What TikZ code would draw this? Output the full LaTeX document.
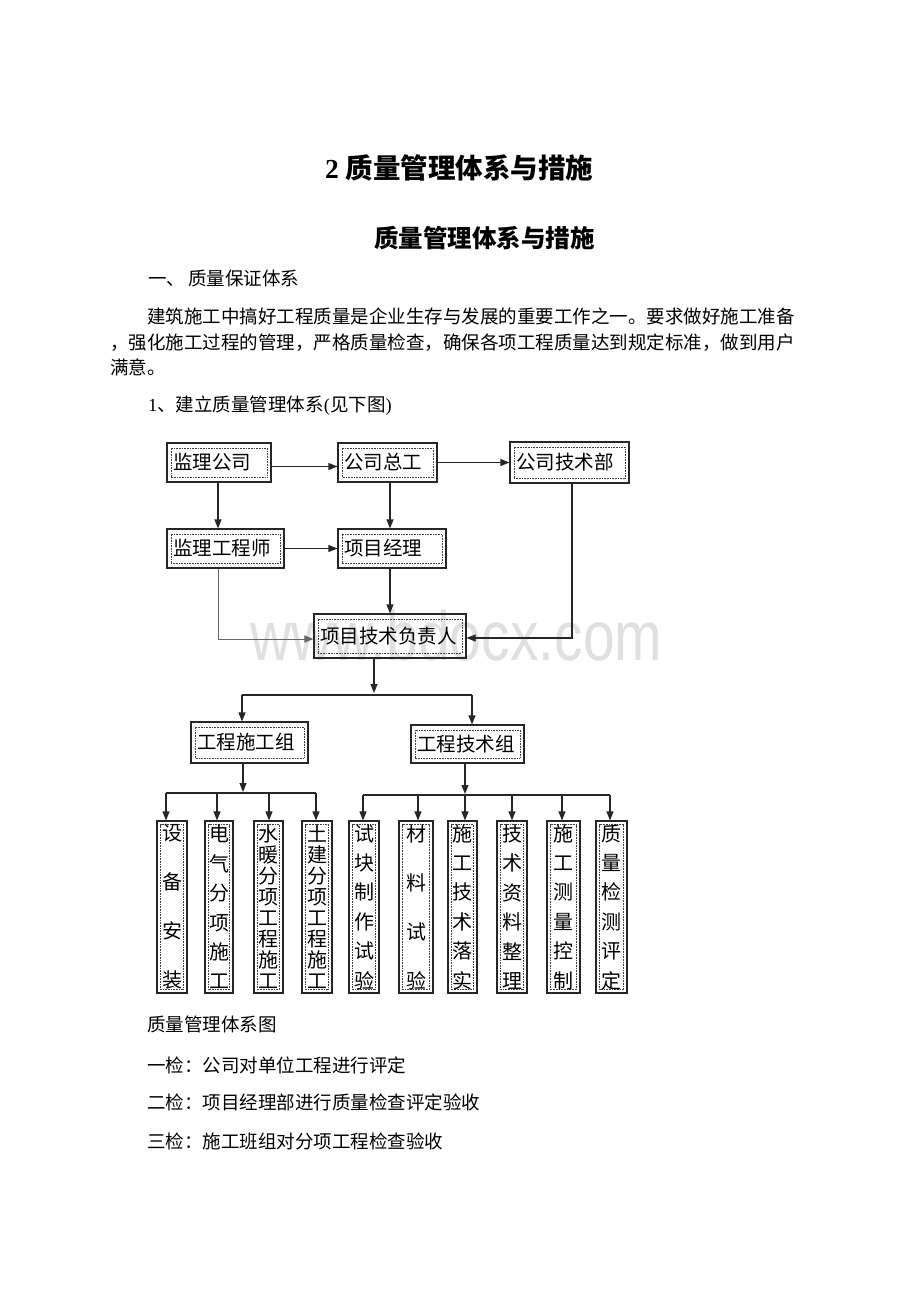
\documentclass[tikz,border=0pt]{standalone}
\usepackage{fontspec}
\usepackage{graphicx}
\setmainfont{Liberation Serif}
\newfontfamily\cjk{Noto Sans CJK SC}
\newfontfamily\wmfont{Liberation Sans}
\usetikzlibrary{arrows.meta,calc}
\tikzset{
  ln/.style={draw=black!85, line width=1.1pt},
  lnlight/.style={draw=black!60, line width=0.9pt},
  tip/.style={-{Triangle[length=9pt,width=7pt]}},
  arr/.style={ln, tip},
  dotin/.style={path picture={\draw[black!75, line width=0.6pt, dash pattern=on 0.8pt off 0.8pt]
      ($(path picture bounding box.south west)+(#1)$) rectangle ($(path picture bounding box.north east)-(#1)$);}},
  hbox/.style n args={3}{draw=black!85, line width=1.1pt, minimum width=#1, text width=#2,
      minimum height=#3, inner xsep=6pt, inner ysep=0pt, align=left,
      font=\cjk\fontsize{19.5}{22}\selectfont, dotin={4pt,5pt}},
  tall/.style 2 args={draw=black!85, line width=1.1pt, minimum width=#1, minimum height=172pt,
      inner sep=0pt, align=center, font=\cjk\fontsize{20}{#2}\selectfont, dotin={3.5pt,3.5pt}},
  txt/.style={anchor=base west, inner sep=0pt, font=\cjk\fontsize{18.5}{20}\selectfont},
}
\begin{document}
\begin{tikzpicture}[x=1pt, y=-1pt]
\useasboundingbox (0,0) rectangle (920,1302);
\fill[white] (0,0) rectangle (920,1302);

% watermark
\node[anchor=base west, inner sep=0pt, text=black!12] (wm) at (250,660)
  {\scalebox{0.815}[1]{\wmfont\fontsize{70}{70}\selectfont www.bdocx.com}};

% headings and text
\node[anchor=base west, inner sep=0pt, font=\bfseries\fontsize{27.5}{30}\selectfont] (t1) at (325,178.5)
  {2 {\cjk 质量管理体系与措施}};
\node[anchor=base west, inner sep=0pt, font=\cjk\bfseries\fontsize{24.5}{27}\selectfont] (t2) at (374,247.3)
  {质量管理体系与措施};
\node[txt] (s1) at (148,285) {一、\hspace{3pt}质量保证体系};
\node[txt] (p1) at (147,323) {建筑施工中搞好工程质量是企业生存与发展的重要工作之一。要求做好施工准备};
\node[txt] (p2) at (110,349) {，强化施工过程的管理，严格质量检查，确保各项工程质量达到规定标准，做到用户};
\node[txt] (p3) at (110,374) {满意。};
\node[txt] (s2) at (148,411) {{\rmfamily 1}、建立质量管理体系{\rmfamily (}见下图{\rmfamily )}};
\node[txt] (c0) at (147,1031) {质量管理体系图};
\node[txt] (c1) at (147,1072) {一检：公司对单位工程进行评定};
\node[txt] (c2) at (147,1109) {二检：项目经理部进行质量检查评定验收};
\node[txt] (c3) at (147,1148) {三检：施工班组对分项工程检查验收};

% upper boxes
\node[hbox={104pt}{92pt}{39pt}] (jlgs) at (219,462.5) {监理公司};
\node[hbox={99pt}{87pt}{39pt}] (gszg) at (387.5,462.5) {公司总工};
\node[hbox={119pt}{107pt}{41pt}] (gsjsb) at (569.5,462.5) {公司技术部};
\node[hbox={117pt}{105pt}{39pt}] (jlgcs) at (225.5,548.5) {监理工程师};
\node[hbox={108pt}{96pt}{39pt}] (xmjl) at (392,548.5) {项目经理};
\node[hbox={152pt}{140pt}{44pt}] (ptr) at (390,636) {项目技术负责人};
\node[hbox={117pt}{105pt}{41pt}] (gsz) at (249.5,742.5) {工程施工组};
\node[hbox={113pt}{101pt}{38pt}] (gjs) at (467.5,744) {工程技术组};

% bottom boxes
\node[tall={30pt}{49}] (b1) at (172,907) {设\\备\\安\\装};
\node[tall={28pt}{29.4}] (b2) at (219,907) {电\\气\\分\\项\\施\\工};
\node[tall={29pt}{21}] (b3) at (268.5,907) {水\\暖\\分\\项\\工\\程\\施\\工};
\node[tall={30pt}{21}] (b4) at (317,907) {土\\建\\分\\项\\工\\程\\施\\工};
\node[tall={30pt}{29.4}] (b5) at (364,907) {试\\块\\制\\作\\试\\验};
\node[tall={34pt}{49}] (b6) at (416,907) {材\\料\\试\\验};
\node[tall={29pt}{29.4}] (b7) at (462.5,907) {施\\工\\技\\术\\落\\实};
\node[tall={30pt}{29.4}] (b8) at (512,907) {技\\术\\资\\料\\整\\理};
\node[tall={33pt}{29.4}] (b9) at (563.5,907) {施\\工\\测\\量\\控\\制};
\node[tall={31pt}{29.4}] (b10) at (611.5,907) {质\\量\\检\\测\\评\\定};

% junction coordinates
\coordinate (j1) at (374,693);
\coordinate (j1l) at (242,695);
\coordinate (j1r) at (472,695);
\coordinate (j2) at (243,792);
\coordinate (j2l) at (166,793);
\coordinate (j2r) at (316,793);
\coordinate (j3) at (465,794);
\coordinate (j3l) at (363,795);
\coordinate (j3r) at (610,795);
\coordinate (k2) at (217,793);
\coordinate (k3) at (269,793);
\coordinate (k6) at (418,795);
\coordinate (k8) at (512,795);
\coordinate (k9) at (562,795);

% connectors
\draw[arr] ($(jlgs.east)+(0,-4pt)$) -- ($(gszg.west)+(0,-4pt)$);
\draw[arr] (gszg.east) -- (gsjsb.west);
\draw[arr] ($(jlgs.south)+(-1pt,0)$) -- ($(jlgs.south |- jlgcs.north)+(-1pt,0)$);
\draw[arr] ($(gszg.south)+(2.5pt,0)$) -- ($(gszg.south |- xmjl.north)+(2.5pt,0)$);
\draw[arr] (jlgcs.east) -- (xmjl.west);
\draw[arr] ($(xmjl.south)+(-2pt,0)$) -- ($(xmjl.south |- ptr.north)+(-2pt,0)$);
\draw[lnlight, tip] ($(jlgcs.south)+(-7.5pt,0)$) |- ($(ptr.west)+(0,-3pt)$);
\draw[arr] ($(gsjsb.south)+(2.5pt,0)$) |- ($(ptr.east)+(0,-2pt)$);
\draw[arr] (ptr.south -| j1) -- (j1);
\draw[ln] (j1l) -- (j1r);
\draw[arr] (j1l) -- (j1l |- gsz.north);
\draw[arr] (j1r) -- (j1r |- gjs.north);
\draw[arr] (gsz.south -| j2) -- (j2);
\draw[ln] (j2l) -- (j2r);
\draw[arr] (j2l) -- (j2l |- b1.north);
\draw[arr] (k2) -- (k2 |- b2.north);
\draw[arr] (k3) -- (k3 |- b3.north);
\draw[arr] (j2r) -- (j2r |- b4.north);
\draw[arr] (gjs.south -| j3) -- (j3);
\draw[ln] (j3l) -- (j3r);
\draw[arr] (j3l) -- (j3l |- b5.north);
\draw[arr] (k6) -- (k6 |- b6.north);
\draw[arr] (j3) -- (j3 |- b7.north);
\draw[arr] (k8) -- (k8 |- b8.north);
\draw[arr] (k9) -- (k9 |- b9.north);
\draw[arr] (j3r) -- (j3r |- b10.north);
\end{tikzpicture}
\end{document}
